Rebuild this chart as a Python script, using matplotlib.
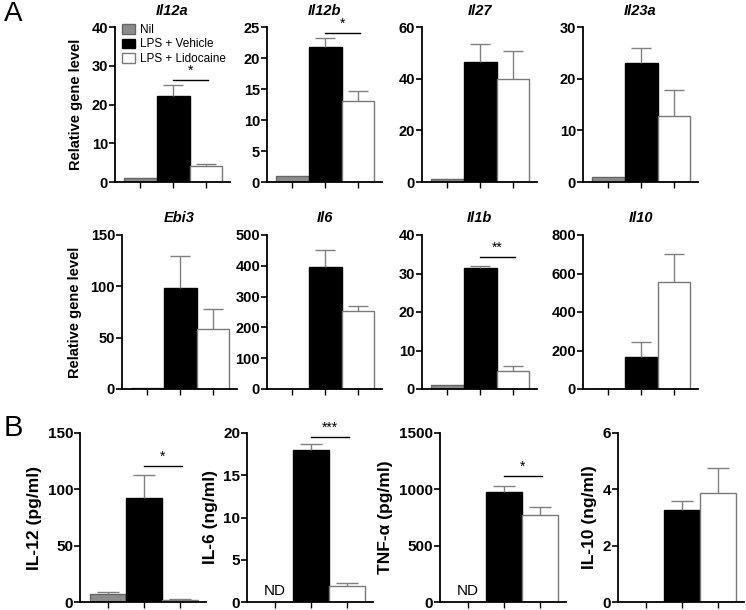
import matplotlib
matplotlib.use('Agg')
import matplotlib.pyplot as plt
import numpy as np
from matplotlib.patches import Patch

plt.rcParams['font.family'] = ['Liberation Sans', 'DejaVu Sans']
plt.rcParams['axes.linewidth'] = 1.3

W, H = 746, 610

groups = ['Nil', 'LPS + Vehicle', 'LPS + Lidocaine']
bar_face = ['#8c8c8c', '#000000', '#ffffff']
bar_edge = ['#666666', '#000000', '#7a7a7a']

# mRNA panels (row A)
genes = ['Il12a', 'Il12b', 'Il27', 'Il23a', 'Ebi3', 'Il6', 'Il1b', 'Il10']
gene_mean = [[1, 22.3, 4.1], [1, 21.7, 13.0], [1, 46.5, 39.8], [1, 23.0, 12.8],
             [1, 98, 58], [1, 397, 252], [1, 31.5, 4.6], [1, 165, 557]]
gene_err = [[0, 2.7, 0.6], [0, 1.5, 1.6], [0, 7.0, 11.0], [0, 3.0, 5.0],
            [0, 32, 20], [0, 53, 16], [0, 0.5, 1.5], [0, 80, 143]]
gene_ymax = [40, 25, 60, 30, 150, 500, 40, 800]
gene_step = [10, 5, 20, 10, 50, 100, 10, 200]
gene_sig = {'Il12a': (26.3, '*'), 'Il12b': (24.0, '*'), 'Il1b': (34.3, '**')}

# protein panels (row B); 0 = not detected / no bar
proteins = ['IL-12 (pg/ml)', 'IL-6 (ng/ml)', 'TNF-α (pg/ml)', 'IL-10 (ng/ml)']
prot_mean = [[7, 92, 1.5], [0, 18.0, 1.9], [0, 975, 770], [0, 3.27, 3.87]]
prot_err = [[2, 21, 1.5], [0, 0.7, 0.3], [0, 55, 75], [0, 0.3, 0.9]]
prot_nd = [False, True, True, False]
prot_ymax = [150, 20, 1500, 6]
prot_step = [50, 5, 500, 2]
prot_sig = {0: (120.7, '*'), 1: (19.5, '***'), 2: (1118, '*')}

fig = plt.figure(figsize=(W / 100, H / 100), dpi=100)


def px_axes(left, top, width, height):
    return fig.add_axes([left / W, 1 - (top + height) / H, width / W, height / H])


def draw_bars(ax, means, errs, ymax, step, tick_size):
    for k in range(3):
        if means[k] <= 0:
            continue
        ax.bar(k, means[k], width=1.0, color=bar_face[k], edgecolor=bar_edge[k],
               linewidth=1.0, zorder=2)
        if errs[k] > 0:
            top = means[k] + errs[k]
            ax.vlines(k, means[k], top, color='#808080', linewidth=1.0, zorder=3)
            ax.hlines(top, k - 0.3, k + 0.3, color='#808080', linewidth=1.0, zorder=3)
    ax.set_xlim(-0.77, 2.73)
    ax.set_ylim(0, ymax)
    ax.set_yticks(np.arange(0, ymax + step / 2, step))
    ax.set_xticks(np.arange(3))
    ax.set_xticklabels([])
    ax.spines['top'].set_visible(False)
    ax.spines['right'].set_visible(False)
    ax.tick_params(axis='y', direction='out', length=4, width=1.2, pad=1, labelsize=tick_size)
    ax.tick_params(axis='x', direction='out', length=4, width=1.0)
    for label in ax.get_yticklabels():
        label.set_fontweight('bold')


def draw_sig(ax, y, text, ymax):
    ax.plot([1, 2.05], [y, y], color='black', linewidth=1.0, zorder=4)
    ax.text(1.52, y + ymax * 0.015, text, ha='center', va='bottom', fontsize=10, zorder=4)


row_a_left = [115, 267, 422, 583, 122, 267, 422, 583]
row_a_top = [27, 27, 27, 27, 235, 235, 235, 235]
row_a_height = [155, 155, 155, 155, 154, 154, 154, 154]

for i, gene in enumerate(genes):
    ax = px_axes(row_a_left[i], row_a_top[i], 115, row_a_height[i])
    draw_bars(ax, gene_mean[i], gene_err[i], gene_ymax[i], gene_step[i], 10.5)
    ax.set_title(gene, fontsize=10.5, fontweight='bold', fontstyle='italic', pad=9)
    if gene in gene_sig:
        y, s = gene_sig[gene]
        draw_sig(ax, y, s, gene_ymax[i])
    if i in (0, 4):
        ax.set_ylabel('Relative gene level', fontsize=10.5, fontweight='bold', labelpad=6)
    if i == 0:
        handles = [Patch(facecolor=bar_face[k], edgecolor=bar_edge[k], linewidth=1.0)
                   for k in range(3)]
        ax.legend(handles, groups, loc='upper left', bbox_to_anchor=(0.06, 1.02),
                  frameon=False, fontsize=8.5, handlelength=1.1, handleheight=0.85,
                  handletextpad=0.45, labelspacing=0.22, borderpad=0, borderaxespad=0)

row_b_left = [80, 247, 440, 618]
for i, name in enumerate(proteins):
    ax = px_axes(row_b_left[i], 433, 126, 169)
    draw_bars(ax, prot_mean[i], prot_err[i], prot_ymax[i], prot_step[i], 11)
    ax.set_ylabel(name, fontsize=12.5, fontweight='bold', labelpad=4)
    if prot_nd[i]:
        ax.text(0, prot_ymax[i] * 0.025, 'ND', ha='center', va='bottom', fontsize=11)
    if i in prot_sig:
        y, s = prot_sig[i]
        draw_sig(ax, y, s, prot_ymax[i])

fig.text(4 / W, 1 - 27 / H, 'A', fontsize=20, ha='left', va='bottom')
fig.text(4 / W, 1 - 442 / H, 'B', fontsize=21, ha='left', va='bottom')

fig.savefig('out.png', dpi=100, facecolor='white')
